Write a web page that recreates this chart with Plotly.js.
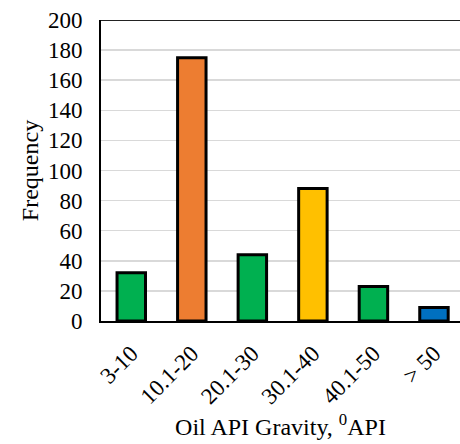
<!DOCTYPE html>
<html>
<head>
<meta charset="utf-8">
<script src="https://cdn.plot.ly/plotly-3.0.1.min.js"></script>
<style>html,body{margin:0;padding:0;background:#fff;overflow:hidden;}</style>
</head>
<body>
<div id="chart" style="width:460px;height:444px;"></div>
<script>
const categories = ["3-10", "10.1-20", "20.1-30", "30.1-40", "40.1-50", "> 50"];
const frequency = [32, 175, 44, 88, 23, 9];
const barColors = ["#00B050", "#ED7D31", "#00B050", "#FFC000", "#00B050", "#0070C0"];
const yTicks = [0, 20, 40, 60, 80, 100, 120, 140, 160, 180, 200];

const family = "Liberation Serif, Times New Roman, serif";
const tickFont = {family: family, color: "#000", size: 23};
const titleFont = {family: family, color: "#000", size: 24};

Plotly.newPlot("chart", [{
  type: "bar",
  x: [0, 1, 2, 3, 4, 5],
  y: frequency,
  width: 0.47,
  marker: {color: barColors, line: {color: "#000", width: 3}},
  hoverinfo: "none"
}], {
  width: 460, height: 444,
  margin: {l: 101, r: 0, t: 20, b: 123},
  paper_bgcolor: "#fff", plot_bgcolor: "#fff",
  font: tickFont,
  showlegend: false,
  xaxis: {
    range: [-0.5, 5.43],
    tickmode: "array",
    tickvals: [0, 1, 2, 3, 4, 5],
    ticktext: categories,
    tickangle: -45,
    showgrid: false,
    zeroline: false,
    showline: true, linecolor: "#000", linewidth: 2,
    ticks: "outside", ticklen: 8, tickcolor: "rgba(0,0,0,0)",
    tickfont: tickFont,
    title: {text: "Oil API Gravity, <sup>0</sup>API", font: titleFont, standoff: 10}
  },
  yaxis: {
    range: [0, 200],
    tickmode: "array",
    tickvals: yTicks,
    showgrid: true, gridcolor: "#D9D9D9", gridwidth: 1.5,
    zeroline: false,
    showline: true, linecolor: "#000", linewidth: 2,
    ticks: "outside", ticklen: 12, tickcolor: "rgba(0,0,0,0)",
    tickfont: tickFont,
    title: {text: "Frequency", font: titleFont, standoff: 3}
  },
  shapes: [{
    type: "line", xref: "paper", yref: "y", x0: 0, x1: 1, y0: 200, y1: 200,
    line: {color: "#222", width: 2}
  }]
}, {displayModeBar: false, staticPlot: true});
</script>
</body>
</html>
